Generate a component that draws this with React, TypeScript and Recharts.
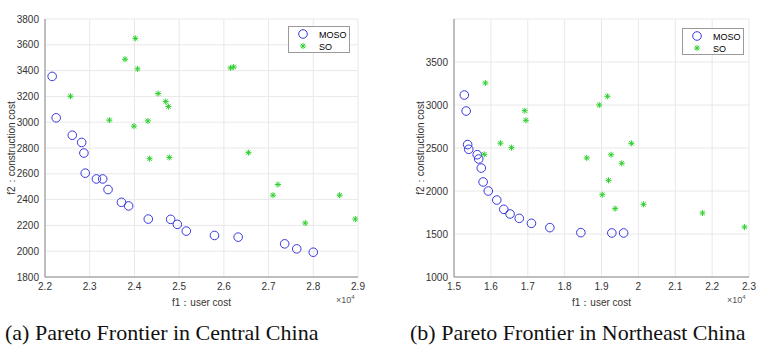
import React from 'react';
import {
  ScatterChart, Scatter, XAxis, YAxis, CartesianGrid, Legend, Label
} from 'recharts';

// central china (user cost in 10^4)
const centralMosoX = [2.216, 2.225, 2.261, 2.282, 2.287, 2.29, 2.315, 2.329, 2.341, 2.371, 2.387, 2.431, 2.481, 2.496, 2.516, 2.579, 2.632, 2.736, 2.763, 2.8];
const centralMosoY = [3355, 3034, 2899, 2843, 2761, 2605, 2560, 2560, 2478, 2379, 2351, 2249, 2247, 2208, 2156, 2122, 2109, 2057, 2018, 1992];
const centralSoX = [2.257, 2.344, 2.379, 2.402, 2.399, 2.407, 2.43, 2.453, 2.47, 2.476, 2.615, 2.622, 2.434, 2.478, 2.655, 2.71, 2.721, 2.782, 2.859, 2.894];
const centralSoY = [3201, 3016, 3488, 3650, 2969, 3413, 3010, 3222, 3160, 3121, 3421, 3428, 2717, 2727, 2764, 2434, 2517, 2218, 2434, 2249];

// northeast china
const northMosoX = [1.528, 1.533, 1.537, 1.54, 1.563, 1.567, 1.574, 1.579, 1.593, 1.616, 1.635, 1.652, 1.677, 1.71, 1.76, 1.844, 1.928, 1.96];
const northMosoY = [3116, 2930, 2540, 2485, 2422, 2372, 2267, 2105, 2000, 1895, 1787, 1733, 1682, 1624, 1574, 1516, 1512, 1512];
const northSoX = [1.585, 1.692, 1.695, 1.894, 1.916, 1.626, 1.656, 1.981, 1.582, 1.86, 1.926, 1.955, 1.919, 1.902, 1.937, 2.014, 2.174, 2.288];
const northSoY = [3256, 2934, 2822, 3000, 3101, 2556, 2504, 2554, 2426, 2384, 2422, 2322, 2124, 1957, 1795, 1845, 1744, 1581];

const centralXTicks = [2.2, 2.3, 2.4, 2.5, 2.6, 2.7, 2.8, 2.9];
const centralYTicks = [1800, 2000, 2200, 2400, 2600, 2800, 3000, 3200, 3400, 3600, 3800];
const northXTicks = [1.5, 1.6, 1.7, 1.8, 1.9, 2.0, 2.1, 2.2, 2.3];
const northYTicks = [1000, 1500, 2000, 2500, 3000, 3500];

const BLUE = '#3838e0';
const GREEN = '#2fd02f';
const AXIS = '#8a8a8a';
const FONT = '"Liberation Sans", Arial, sans-serif';

const zip = (xs: number[], ys: number[]) => xs.map((x, i) => ({ x, y: ys[i] }));

const Circle = (props: any) => {
  const { cx, cy } = props;
  return <circle cx={cx} cy={cy} r={4.3} fill="none" stroke={BLUE} strokeWidth={1} />;
};

const Star = (props: any) => {
  const { cx, cy } = props;
  const s = 3;
  const d = 2.2;
  return (
    <g stroke={GREEN} strokeWidth={1}>
      <line x1={cx - s} y1={cy} x2={cx + s} y2={cy} />
      <line x1={cx} y1={cy - s} x2={cx} y2={cy + s} />
      <line x1={cx - d} y1={cy - d} x2={cx + d} y2={cy + d} />
      <line x1={cx - d} y1={cy + d} x2={cx + d} y2={cy - d} />
    </g>
  );
};

const LegendBox = () => (
  <div style={{
    width: 62, height: 27, border: '1px solid #9a9a9a', background: '#fff',
    fontFamily: FONT, fontSize: 9, color: '#222', boxSizing: 'border-box',
  }}>
    <svg width={60} height={25}>
      <Circle cx={14} cy={7} />
      <text x={30} y={10.5}>MOSO</text>
      <Star cx={14} cy={19} />
      <text x={30} y={22.5}>SO</text>
    </svg>
  </div>
);

interface PanelProps {
  moso: { x: number; y: number }[];
  so: { x: number; y: number }[];
  xDomain: [number, number];
  xTicks: number[];
  yDomain: [number, number];
  yTicks: number[];
  marginLeft: number;
  marginRight: number;
  legendLeft: number;
  legendTop: number;
}

const Panel: React.FC<PanelProps> = ({
  moso, so, xDomain, xTicks, yDomain, yTicks, marginLeft, marginRight, legendLeft, legendTop,
}) => {
  const tick = { fontSize: 10, fill: '#333', fontFamily: FONT };
  return (
    <ScatterChart
      width={380}
      height={320}
      margin={{ top: 19, right: marginRight, bottom: 13, left: marginLeft }}
    >
      <CartesianGrid stroke="#e8e8e8" />
      <XAxis
        type="number"
        dataKey="x"
        domain={xDomain}
        ticks={xTicks}
        allowDataOverflow
        tickFormatter={(v: number) => String(+v.toFixed(1))}
        tick={tick}
        tickSize={0}
        tickMargin={6}
        height={30}
        stroke={AXIS}
      >
        <Label value="f1：user cost" position="insideBottom" offset={1}
          style={{ fontSize: 10, fill: '#333', fontFamily: FONT }} />
      </XAxis>
      <XAxis
        xAxisId="top"
        orientation="top"
        type="number"
        domain={xDomain}
        ticks={xTicks}
        tick={false}
        tickSize={0}
        height={0}
        stroke={AXIS}
      >
        <Label value="paretro solution" position="top" offset={4}
          style={{ fontSize: 10.5, fill: '#222', fontFamily: FONT }} />
      </XAxis>
      <YAxis
        type="number"
        dataKey="y"
        domain={yDomain}
        ticks={yTicks}
        allowDataOverflow
        tick={tick}
        tickSize={0}
        tickMargin={6}
        width={41}
        stroke={AXIS}
      >
        <Label value="f2：construction cost" angle={-90} position="insideLeft" offset={7}
          style={{ textAnchor: 'middle', fontSize: 10, fill: '#333', fontFamily: FONT }} />
      </YAxis>
      <YAxis
        yAxisId="right"
        orientation="right"
        type="number"
        domain={yDomain}
        ticks={yTicks}
        tick={false}
        tickSize={0}
        width={0}
        stroke={AXIS}
      />
      <Legend
        layout="horizontal"
        verticalAlign="middle"
        align="center"
        content={() => <LegendBox />}
        wrapperStyle={{ top: legendTop, left: legendLeft, width: 62, height: 27 }}
      />
      <Scatter name="MOSO" data={moso} shape={<Circle />} isAnimationActive={false} />
      <Scatter name="SO" data={so} shape={<Star />} isAnimationActive={false} />
    </ScatterChart>
  );
};

const expo = (left: number): React.CSSProperties => ({
  position: 'absolute', left, top: 294, fontFamily: FONT, fontSize: 9, color: '#555', lineHeight: 1,
});

const caption: React.CSSProperties = {
  position: 'absolute', top: 320, fontFamily: '"Liberation Serif", "Times New Roman", serif',
  fontSize: 22, color: '#111', whiteSpace: 'nowrap',
};

export default function App() {
  return (
    <div style={{ position: 'absolute', left: 0, top: 0, width: 759, height: 356, background: '#fff' }}>
      <div style={{ position: 'absolute', left: 0, top: 0 }}>
        <Panel
          moso={zip(centralMosoX, centralMosoY)}
          so={zip(centralSoX, centralSoY)}
          xDomain={[2.2, 2.9]}
          xTicks={centralXTicks}
          yDomain={[1800, 3800]}
          yTicks={centralYTicks}
          marginLeft={4}
          marginRight={22}
          legendLeft={288}
          legendTop={26}
        />
      </div>
      <div style={{ position: 'absolute', left: 380, top: 0 }}>
        <Panel
          moso={zip(northMosoX, northMosoY)}
          so={zip(northSoX, northSoY)}
          xDomain={[1.5, 2.3]}
          xTicks={northXTicks}
          yDomain={[1000, 4000]}
          yTicks={northYTicks}
          marginLeft={33}
          marginRight={11}
          legendLeft={302}
          legendTop={28}
        />
      </div>
      <div style={expo(336)}>×10<sup style={{ fontSize: 6, verticalAlign: 4 }}>4</sup></div>
      <div style={expo(727)}>×10<sup style={{ fontSize: 6, verticalAlign: 4 }}>4</sup></div>
      <div style={{ ...caption, left: 5 }}>(a) Pareto Frontier in Central China</div>
      <div style={{ ...caption, left: 410 }}>(b) Pareto Frontier in Northeast China</div>
    </div>
  );
}
